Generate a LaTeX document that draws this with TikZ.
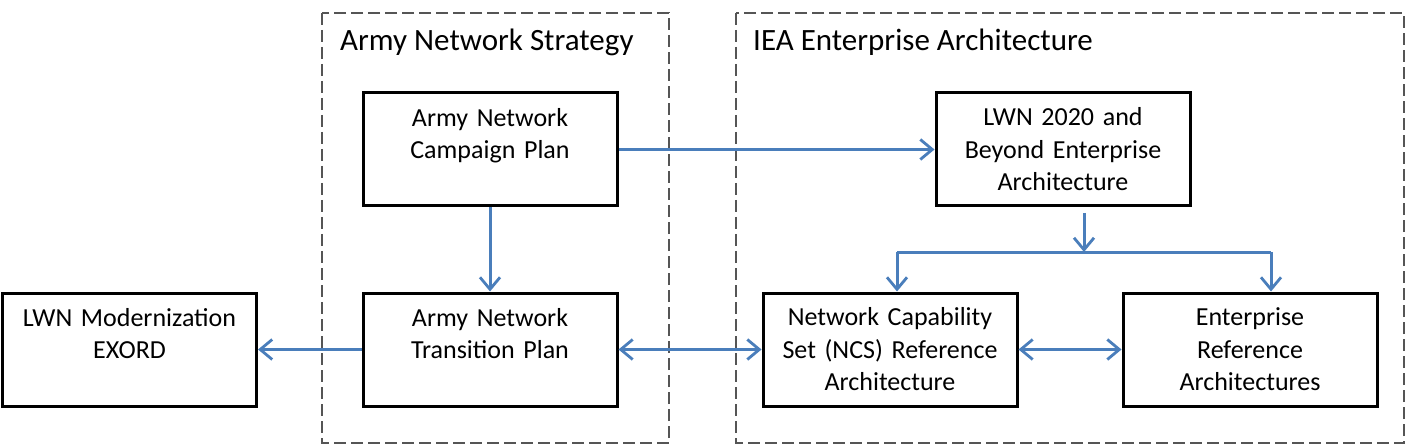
\documentclass[tikz,border=0pt]{standalone}
\usepackage{fontspec}
\setmainfont{Carlito}
\usetikzlibrary{arrows.meta,calc}
\definecolor{arrblue}{RGB}{74,126,187}
\definecolor{dashgray}{RGB}{85,85,85}
\tikzset{
  box/.style={draw=black, line width=3pt, minimum width=254pt, minimum height=113pt,
    text width=240pt, align=center, inner sep=0pt,
    font=\fontsize{26}{32.5}\selectfont},
  container/.style={draw=dashgray, line width=2.6pt, dash pattern=on 12pt off 5pt},
  title/.style={anchor=west, inner sep=0pt, font=\fontsize{31}{37}\selectfont},
  arr/.style={draw=arrblue, line width=3pt, -{Straight Barb[length=12pt,width=20pt,line width=2.8pt]}},
  darr/.style={draw=arrblue, line width=3pt, {Straight Barb[length=12pt,width=20pt,line width=2.8pt]}-{Straight Barb[length=12pt,width=20pt,line width=2.8pt]}},
  link/.style={draw=arrblue, line width=3pt}
}
\begin{document}
\begin{tikzpicture}[x=1pt,y=-1pt]
\useasboundingbox (0,0) rectangle (1420,446);
% containers
\draw[container] (322,13) rectangle (669,443);
\draw[container] (736,13) rectangle (1404,443);
\node[title] (t1) at (340,42) {Army Network Strategy};
\node[title] (t2) at (753,42) {IEA Enterprise Architecture};
% boxes
\node[box] (camp) at (490,149.5) {Army Network\\Campaign Plan\\\phantom{A}};
\node[box] (trans) at (490,349.5) {Army Network\\Transition Plan\\\phantom{A}};
\node[box] (exord) at (129.5,349.5) {LWN Modernization\\EXORD\\\phantom{A}};
\node[box] (lwn) at (1063,149.5) {LWN 2020 and\\Beyond Enterprise\\Architecture};
\node[box] (ncs) at (890,349.5) {Network Capability\\Set (NCS) Reference\\Architecture};
\node[box] (ent) at (1250,349.5) {Enterprise\\Reference\\Architectures};
% connectors
\draw[arr] (camp.east) -- (lwn.west);
\draw[arr] (camp.south) -- (trans.north);
\draw[arr] (trans.west) -- (exord.east);
\draw[darr] (trans.east) -- (ncs.west);
\draw[darr] (ncs.east) -- (ent.west);
\coordinate (lwnout) at (1084,213);
\coordinate (split) at (1084,252);
\coordinate (bl) at (897,252);
\coordinate (br) at (1271,252);
\draw[arr] (lwnout) -- (split);
\draw[link] (bl) -- (br);
\draw[arr] (bl) -- (bl |- ncs.north);
\draw[arr] (br) -- (br |- ent.north);
\end{tikzpicture}
\end{document}
